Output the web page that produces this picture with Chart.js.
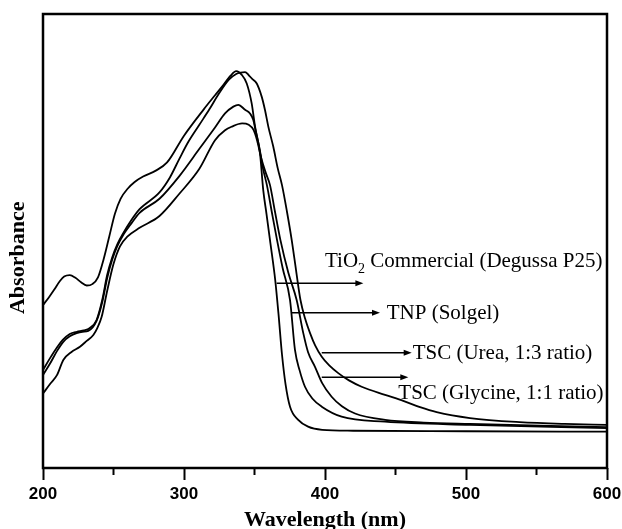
<!DOCTYPE html>
<html>
<head>
<meta charset="utf-8">
<script src="https://cdn.jsdelivr.net/npm/chart.js@4.4.0/dist/chart.umd.min.js"></script>
<style>
  html, body { margin: 0; padding: 0; background: #fff; }
  #wrap { width: 622px; height: 529px; }
</style>
</head>
<body>
<div id="wrap"><canvas id="chart" width="622" height="529"></canvas></div>
<script>
// UV-vis absorbance, arbitrary units (0-100 across the plot height)
const p25Wl = [200, 204, 208, 212, 215, 219, 223, 227, 231, 235, 239, 243, 247, 251, 255, 260, 265, 271, 280, 288, 300, 314, 322, 328, 333, 337, 341, 344.5, 348, 350.4, 353.9, 356.2, 358.5, 361.3, 364.7, 367, 369.5, 372, 375.2, 381, 388, 398, 420, 500, 600]
const p25Abs = [35.9, 37.5, 39.3, 41.2, 42.2, 42.5, 41.9, 40.9, 40.2, 40.5, 42.0, 46.0, 51.0, 56.0, 59.3, 61.5, 63.0, 64.2, 65.5, 67.3, 73.2, 79.0, 82.1, 84.4, 86.4, 87.4, 86.6, 84.7, 80.3, 75.2, 69.3, 61.2, 56.0, 49.5, 41.4, 34.0, 25.0, 18.5, 13.5, 10.6, 9.1, 8.4, 8.2, 8.1, 8.0]

const tnpWl = [200, 205, 210, 214.4, 219, 223.9, 228, 232.1, 238, 242, 245.5, 249, 252.6, 257.4, 262, 268.5, 282.6, 296.7, 310.9, 322, 329.1, 335, 338.5, 343.3, 346.8, 349.1, 351, 353.5, 356, 358.8, 362.5, 366, 370, 375.2, 378.7, 382, 385.8, 391, 397.7, 411.8, 442.6, 502.8, 600]
const tnpAbs = [20.5, 23.0, 25.8, 27.8, 29.0, 29.7, 30.0, 30.2, 32.4, 36.5, 41.8, 45.8, 48.8, 51.6, 53.6, 56.2, 59.3, 64.3, 70.3, 75.0, 78.1, 79.6, 80.0, 78.9, 78.1, 76.7, 74.0, 70.5, 66.0, 62.3, 56.0, 50.2, 44.0, 37.0, 26.0, 21.5, 17.9, 15.3, 13.5, 11.3, 10.2, 9.5, 8.8]

const ureaWl = [200, 205, 210, 214, 219, 224, 229, 233, 238, 242, 245.5, 249, 252.6, 257.4, 262, 268.5, 282.6, 290, 296.7, 303, 310.9, 318, 325, 332, 337, 340, 343.3, 346, 348, 351.6, 355.1, 357.4, 359.8, 363.3, 366.5, 369.5, 373, 376.4, 379.5, 382.6, 386, 389.4, 393, 397.7, 403, 409.4, 417, 426, 442.6, 455.5, 467.4, 479.2, 502.8, 538, 570, 600]
const ureaAbs = [21.6, 24.2, 26.6, 28.2, 29.5, 30.0, 30.3, 30.8, 32.6, 37.0, 42.5, 46.3, 49.2, 52.0, 54.3, 57.0, 60.7, 64.0, 68.1, 71.8, 75.6, 79.0, 82.6, 85.6, 86.8, 87.1, 87.2, 86.5, 85.8, 84.7, 81.8, 78.9, 75.2, 70.8, 66.0, 62.3, 56.5, 50.2, 43.5, 37.0, 32.8, 29.7, 27.0, 24.5, 22.6, 20.9, 19.3, 17.9, 16.1, 14.8, 13.4, 12.3, 11.0, 10.1, 9.7, 9.5]

const glyWl = [200, 205, 210, 214.4, 220, 226.2, 231, 235.7, 238.5, 241.6, 245.5, 249.9, 254.6, 260, 268.5, 282.6, 296.7, 310.9, 322, 329.1, 334, 341.2, 345.9, 349.4, 351.8, 355, 358, 361, 364.5, 368.4, 374, 379.9, 384.6, 388, 392.9, 398, 404.7, 412, 421.3, 442.6, 470, 502.8, 600]
const glyAbs = [16.4, 18.5, 20.5, 23.8, 25.5, 26.7, 28.0, 29.3, 30.8, 33.3, 39.0, 44.8, 48.8, 51.0, 52.9, 55.5, 60.4, 65.9, 72.2, 74.4, 75.2, 75.9, 75.6, 74.4, 72.2, 68.0, 65.0, 62.3, 56.5, 50.2, 43.0, 37.0, 29.7, 25.5, 22.3, 18.7, 15.7, 13.6, 12.0, 10.6, 10.0, 9.7, 9.0]

const minorTicks = [250, 350, 450, 550]

// labels with arrows, placed in data units (nm, absorbance)
const notes = [
  { parts: [['TiO', false], ['2', true], [' Commercial (Degussa P25)', false]], textWl: 400, textAbs: 45.4, fromWl: 365.7, toWl: 427.2, arrowAbs: 40.7 },
  { parts: [['TNP (Solgel)', false]], textWl: 443.8, textAbs: 34.1, fromWl: 376.4, toWl: 439, arrowAbs: 34.2 },
  { parts: [['TSC (Urea, 1:3 ratio)', false]], textWl: 462.2, textAbs: 25.3, fromWl: 397.7, toWl: 461.5, arrowAbs: 25.4 },
  { parts: [['TSC (Glycine, 1:1 ratio)', false]], textWl: 452, textAbs: 16.5, fromWl: 397.7, toWl: 459.1, arrowAbs: 20.0 },
]

const toPoints = (xs, ys) => xs.map((x, i) => ({ x, y: ys[i] }))

function series(label, xs, ys) {
  return {
    label,
    data: toPoints(xs, ys),
    borderColor: '#000',
    borderWidth: 1.8,
    pointRadius: 0,
    fill: false,
    cubicInterpolationMode: 'monotone',
  }
}

const frameAndNotes = {
  id: 'frameAndNotes',
  afterDatasetsDraw(chart) {
    const { ctx, chartArea: a, scales: { x, y } } = chart
    ctx.save()
    ctx.strokeStyle = '#000'
    ctx.fillStyle = '#000'

    // box
    ctx.lineWidth = 2.5
    ctx.strokeRect(a.left, a.top, a.right - a.left, a.bottom - a.top)

    // minor ticks
    ctx.lineWidth = 2
    minorTicks.forEach((v) => {
      const px = x.getPixelForValue(v)
      ctx.beginPath()
      ctx.moveTo(px, a.bottom)
      ctx.lineTo(px, a.bottom + 7)
      ctx.stroke()
    })

    // y title
    ctx.save()
    ctx.translate(18, y.getPixelForValue(46.3))
    ctx.rotate(-Math.PI / 2)
    ctx.font = 'bold 22px "Liberation Serif"'
    ctx.textAlign = 'center'
    ctx.textBaseline = 'middle'
    ctx.fillText('Absorbance', 0, 0)
    ctx.restore()

    // arrows and labels
    notes.forEach((n) => {
      const x0 = x.getPixelForValue(n.fromWl)
      const x1 = x.getPixelForValue(n.toWl)
      const ya = y.getPixelForValue(n.arrowAbs)
      ctx.lineWidth = 1.6
      ctx.beginPath()
      ctx.moveTo(x0, ya)
      ctx.lineTo(x1 - 5, ya)
      ctx.stroke()
      ctx.beginPath()
      ctx.moveTo(x1, ya)
      ctx.lineTo(x1 - 8, ya - 3)
      ctx.lineTo(x1 - 8, ya + 3)
      ctx.closePath()
      ctx.fill()

      let tx = x.getPixelForValue(n.textWl)
      const ty = y.getPixelForValue(n.textAbs)
      ctx.textAlign = 'left'
      ctx.textBaseline = 'middle'
      n.parts.forEach(([str, sub]) => {
        ctx.font = sub ? '14px "Liberation Serif"' : '21px "Liberation Serif"'
        ctx.fillText(str, tx, sub ? ty + 7 : ty)
        tx += ctx.measureText(str).width
      })
    })
    ctx.restore()
  },
}

new Chart(document.getElementById('chart'), {
  type: 'line',
  data: {
    datasets: [
      series('TiO2 Commercial (Degussa P25)', p25Wl, p25Abs),
      series('TNP (Solgel)', tnpWl, tnpAbs),
      series('TSC (Urea, 1:3 ratio)', ureaWl, ureaAbs),
      series('TSC (Glycine, 1:1 ratio)', glyWl, glyAbs),
    ],
  },
  options: {
    responsive: false,
    animation: false,
    devicePixelRatio: 1,
    layout: { padding: { left: 0, right: 15, top: 14, bottom: 0 } },
    plugins: {
      legend: { display: false },
      tooltip: { enabled: false },
    },
    scales: {
      x: {
        type: 'linear',
        min: 200,
        max: 600,
        afterFit: (s) => {
          s.height = 61
          s.paddingLeft = 0
          s.paddingRight = 0
        },
        border: { display: false },
        grid: {
          drawOnChartArea: false,
          drawTicks: true,
          tickLength: 12,
          tickWidth: 2,
          tickColor: '#000',
        },
        ticks: {
          stepSize: 100,
          padding: 4,
          color: '#000',
          font: { family: '"Liberation Sans"', size: 17, weight: 'bold' },
        },
        title: {
          display: true,
          text: 'Wavelength (nm)',
          color: '#000',
          padding: { top: 0, bottom: 0 },
          font: { family: '"Liberation Serif"', size: 22, weight: 'bold', lineHeight: 0.8 },
        },
      },
      y: {
        min: 0,
        max: 100,
        afterFit: (s) => { s.width = 43 },
        border: { display: false },
        grid: { display: false },
        ticks: { display: false },
      },
    },
  },
  plugins: [frameAndNotes],
})
</script>
</body>
</html>
